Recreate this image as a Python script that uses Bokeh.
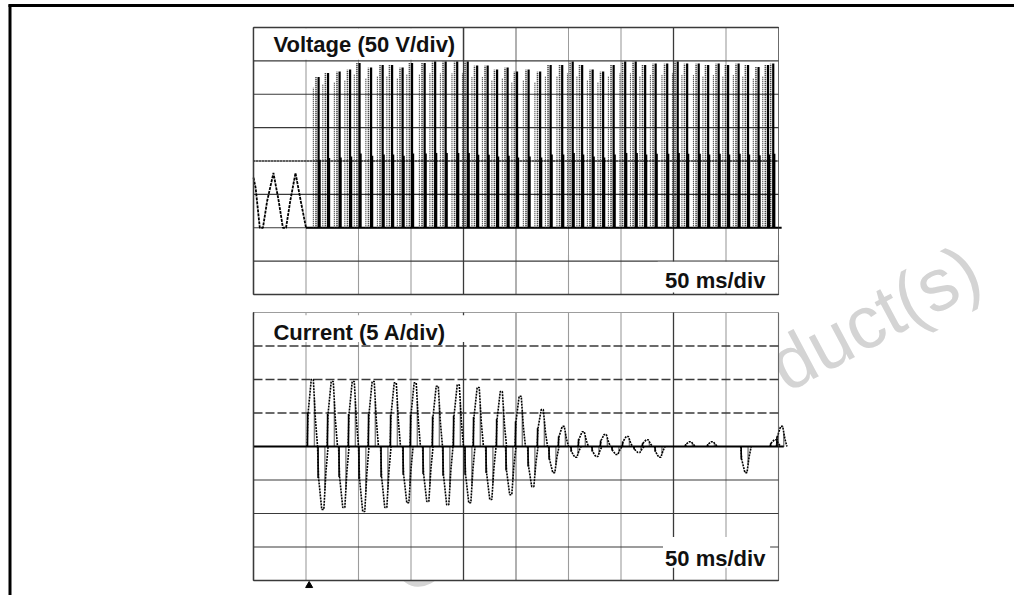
from bokeh.plotting import figure
from bokeh.models import Range1d, Label
from bokeh.embed import file_html
from bokeh.resources import INLINE

# ---------------- data ----------------
# time axis: 50 ms/div, 10 divisions
t_ticks = [0, 50, 100, 150, 200, 250, 300, 350, 400, 450, 500]
# voltage axis: 50 V/div, 0 V two divisions above the bottom
v_ticks = [-100, -50, 0, 50, 100, 150, 200, 250, 300]
# current axis: 5 A/div, 0 A in the middle
i_ticks = [-20, -15, -10, -5, 0, 5, 10, 15, 20]

# voltage before switching starts (ms, V)
v_pre_t = [0, 2, 6, 9, 13, 19, 24, 28, 31, 35, 40, 45, 50]
v_pre_v = [75, 60, 0, 0, 40, 82, 40, 0, 0, 40, 82, 40, 0]

# voltage switching bursts (ms, peak V)
v_spike_t = [62, 71, 82, 92, 101, 112, 123, 132, 142, 151, 163, 173, 183, 194, 204,
             213, 223, 232, 242, 251, 262, 273, 283, 294, 304, 313, 323, 333, 343, 354,
             364, 373, 383, 394, 404, 413, 424, 433, 443, 452, 462, 471, 481, 490, 495]
v_spike_v = [226, 232, 234, 237, 247, 240, 244, 244, 240, 247, 247, 249, 249, 249, 249,
             243, 243, 237, 240, 234, 237, 234, 244, 244, 249, 244, 237, 234, 244, 249,
             249, 244, 246, 246, 249, 246, 246, 244, 246, 244, 246, 244, 241, 244, 246]

# current positive peaks (ms, A)
i_pos_t = [56, 75, 95, 114, 135, 154, 175, 195, 214, 236, 254, 275, 295, 314, 335,
           356, 375, 416, 437, 497, 503]
i_pos_a = [10.0, 9.7, 9.7, 9.7, 9.5, 9.5, 9.0, 9.2, 8.8, 8.2, 7.5, 5.5, 3.0, 2.2, 1.8,
           1.5, 1.0, 0.7, 0.7, 1.0, 3.0]
# current negative peaks (ms, A)
i_neg_t = [66, 86, 105, 126, 147, 166, 185, 206, 226, 245, 266, 286, 307, 327, 346,
           367, 387, 469]
i_neg_a = [-9.4, -9.1, -9.7, -9.1, -8.4, -8.2, -8.7, -8.4, -7.9, -7.2, -6.0, -3.9, -1.6,
           -1.5, -1.2, -0.9, -1.6, -3.9]

# ---------------- layout ----------------
W, H = 1014, 595
OX, OY = 0, 0


def fx(px):
    return px - OX


def fy(py):
    return H - (py - OY)


PL, PR = 253, 778          # panel left/right (page px)
VT, VB = 27, 294           # voltage panel top/bottom
IT, IB = 312, 580          # current panel top/bottom

t_pp = 500.0 / (PR - PL)
v_pp = 400.0 / (VB - VT)
i_pp = 40.0 / (IB - IT)

p = figure(width=W, height=H, x_range=Range1d(0, W), y_range=Range1d(0, H),
           output_backend="svg", toolbar_location=None, min_border=0,
           x_axis_location=None, y_axis_location=None)
p.grid.visible = False
p.outline_line_color = None
p.background_fill_color = "white"
p.border_fill_color = "white"

p.extra_x_ranges = {"t": Range1d(0 - fx(PL) * t_pp, 500 + (W - fx(PR)) * t_pp)}
p.extra_y_ranges = {
    "v": Range1d(-100 - fy(VB) * v_pp, 300 + (H - fy(VT)) * v_pp),
    "i": Range1d(-20 - fy(IB) * i_pp, 20 + (H - fy(IT)) * i_pp),
}

# watermark (behind the panels)
wm = Label(x=fx(974), y=fy(264), text="Obsolete Product(s)", angle=28, angle_units="deg",
           text_align="right", text_baseline="alphabetic", text_font="Liberation Sans",
           text_font_size="74px", text_color="#d4d4d4", level="underlay")
p.add_layout(wm)

# outer frame
p.segment(x0=[fx(9.5)], y0=[0], x1=[fx(9.5)], y1=[fy(4)], line_color="black", line_width=3)
p.segment(x0=[fx(8)], y0=[fy(5)], x1=[W], y1=[fy(5)], line_color="black", line_width=3)

GRID = "#3a3a3a"


def seg(x0, y0, x1, y1, yr, color=GRID, width=1.2, dash="solid"):
    p.segment(x0=x0, y0=y0, x1=x1, y1=y1, x_range_name="t", y_range_name=yr,
              line_color=color, line_width=width, line_dash=dash)


def vstyle(t):
    if t in (0, 200, 400):
        return "solid", 1.3
    if t == 250:
        return "1 1", 1.6
    return "1 1", 1.1


# ---------------- voltage panel ----------------
p.quad(left=[0], right=[500], bottom=[-100], top=[300], x_range_name="t", y_range_name="v",
       fill_color="white", line_color=None)
seg([0] * len(v_ticks), v_ticks, [500] * len(v_ticks), v_ticks, "v")
seg([0], [100], [500], [100], "v", color="black", width=1.6, dash="1 2")
for t in t_ticks:
    d, w = vstyle(t)
    seg([t], [-100], [t], [300], "v", width=w, dash=d)

# voltage trace
p.line(v_pre_t, v_pre_v, x_range_name="t", y_range_name="v", line_color="black",
       line_width=1.8, line_dash="3 1")
p.line([v_pre_t[-1], v_spike_t[-1] + 8], [0, 0], x_range_name="t", y_range_name="v",
       line_color="black", line_width=2)
p.segment(x0=[t - 5 for t in v_spike_t], y0=[0] * len(v_spike_t),
          x1=[t - 5 for t in v_spike_t], y1=[v * 0.93 for v in v_spike_v],
          x_range_name="t", y_range_name="v", line_color="#222222", line_width=1.1,
          line_dash="1 1")
p.segment(x0=[t - 2.5 for t in v_spike_t], y0=[0] * len(v_spike_t),
          x1=[t - 2.5 for t in v_spike_t], y1=v_spike_v,
          x_range_name="t", y_range_name="v", line_color="#111111", line_width=1.6,
          line_dash="1 1")
p.segment(x0=v_spike_t, y0=[0] * len(v_spike_t), x1=v_spike_t, y1=v_spike_v,
          x_range_name="t", y_range_name="v", line_color="black", line_width=2.2)
p.segment(x0=[t + 0.8 for t in v_spike_t], y0=[0] * len(v_spike_t),
          x1=[t + 0.8 for t in v_spike_t], y1=[v * 0.45 for v in v_spike_v],
          x_range_name="t", y_range_name="v", line_color="black", line_width=2.6)

# label boxes (voltage)
p.quad(left=[0.8], right=[199], bottom=[251.5], top=[299], x_range_name="t", y_range_name="v",
       fill_color="white", line_color=None)
p.quad(left=[385], right=[492], bottom=[-97], top=[-51], x_range_name="t", y_range_name="v",
       fill_color="white", line_color=None)
seg([0, 0, 0], [300, -100, -100], [500, 500, 0], [300, -100, 300], "v", width=1.3)
seg([200], [250], [200], [300], "v", width=1.3)
seg([500], [-100], [500], [300], "v", width=1.1, dash="1 1")

# ---------------- current panel ----------------
p.quad(left=[0], right=[500], bottom=[-20], top=[20], x_range_name="t", y_range_name="i",
       fill_color="white", line_color=None)
for a in i_ticks:
    if a == 20:
        seg([0], [a], [500], [a], "i", width=1.2, dash="1 1")
    elif a > 0:
        seg([0], [a], [500], [a], "i", width=1.3, dash="9 3")
    else:
        seg([0], [a], [500], [a], "i", width=1.2)
for t in t_ticks:
    d, w = vstyle(t)
    seg([t], [-20], [t], [20], "i", width=w, dash=d)

# current trace
p.line([0, 505], [0, 0], x_range_name="t", y_range_name="i", line_color="black", line_width=2)


def pulses(ts, amps):
    xs, ys = [], []
    for t, a in zip(ts, amps):
        xs.append([t - 5, t - 4, t - 1, t + 1, t + 3, t + 5])
        ys.append([0, 0.5 * a, a, a, 0.4 * a, 0])
    p.multi_line(xs, ys, x_range_name="t", y_range_name="i", line_color="black",
                 line_width=1.6, line_dash="2 1")
    p.segment(x0=[t - 4.5 for t in ts], y0=[0] * len(ts), x1=[t - 4.5 for t in ts],
              y1=[0.5 * a for a in amps], x_range_name="t", y_range_name="i",
              line_color="black", line_width=1.5)
    p.segment(x0=[t + 2 for t in ts], y0=[0] * len(ts), x1=[t + 2 for t in ts],
              y1=[0.7 * a for a in amps], x_range_name="t", y_range_name="i",
              line_color="black", line_width=1.4, line_dash="1 1")


pulses(i_pos_t, i_pos_a)
pulses(i_neg_t, i_neg_a)

# label boxes (current)
p.quad(left=[0.8], right=[202], bottom=[15.6], top=[19.6], x_range_name="t", y_range_name="i",
       fill_color="white", line_color=None)
p.quad(left=[390], right=[492], bottom=[-18.1], top=[-13.5], x_range_name="t", y_range_name="i",
       fill_color="white", line_color=None)
seg([0, 0], [-20, -20], [500, 0], [-20, 20], "i", width=1.3)
seg([500], [-20], [500], [20], "i", width=1.1, dash="1 1")

# trigger marker
p.scatter([53], [-20.75], x_range_name="t", y_range_name="i", marker="triangle",
          size=7, fill_color="black", line_color="black")

# ---------------- texts ----------------
font = "Liberation Sans"
for txt, x, y, yr in [("Voltage (50 V/div)", 19, 274, "v"),
                      ("50 ms/div", 392, -79, "v"),
                      ("Current (5 A/div)", 19, 17.0, "i"),
                      ("50 ms/div", 392, -16.7, "i")]:
    p.add_layout(Label(x=x, y=y, text=txt, x_range_name="t", y_range_name=yr,
                       text_font=font, text_font_style="bold", text_font_size="22px",
                       text_color="#111111", text_align="left", text_baseline="alphabetic"))

open("out.html", "w").write(file_html(p, INLINE))
